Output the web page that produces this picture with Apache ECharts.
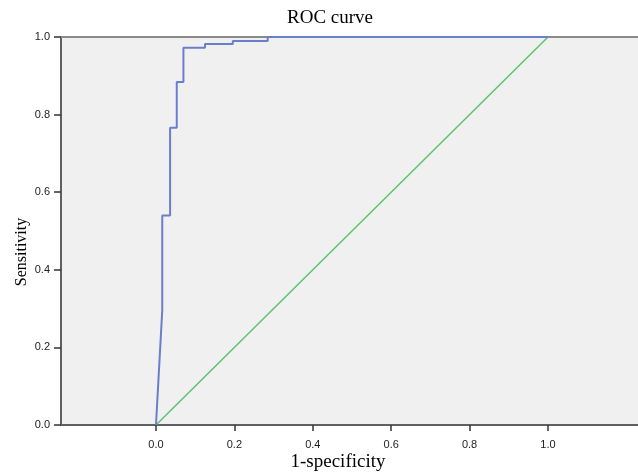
<!DOCTYPE html>
<html>
<head>
<meta charset="utf-8">
<script src="https://cdn.jsdelivr.net/npm/echarts@6/dist/echarts.min.js"></script>
<style>html,body{margin:0;padding:0;background:#fff;}#c{width:638px;height:475px;}</style>
</head>
<body>
<div id="c"></div>
<script>
const titleText = "ROC curve";
const xTitle = "1-specificity";
const yTitle = "Sensitivity";
const tickValues = [0, 0.2, 0.4, 0.6, 0.8, 1.0];
// ROC curve points (1-specificity, sensitivity)
const rocX = [0, 0.016, 0.016, 0.036, 0.036, 0.053, 0.053, 0.070, 0.070, 0.125, 0.125, 0.196, 0.196, 0.285, 0.285, 1.0];
const rocY = [0, 0.296, 0.540, 0.540, 0.766, 0.766, 0.884, 0.884, 0.972, 0.972, 0.982, 0.982, 0.990, 0.990, 1.0, 1.0];
// Reference diagonal
const refX = [0, 1];
const refY = [0, 1];

const chart = echarts.init(document.getElementById('c'), null, {renderer: 'canvas'});
const rocData = rocX.map((x, i) => [x, rocY[i]]);
const refData = refX.map((x, i) => [x, refY[i]]);
const sans = 'Liberation Sans';
const xMin = -0.2423, xMax = 1.2296;

chart.setOption({
  animation: false,
  backgroundColor: '#ffffff',
  grid: {left: 61, right: 0, top: 37, bottom: 50, show: true,
         backgroundColor: '#f0f0f0', borderWidth: 0},
  xAxis: [{
    type: 'value', min: xMin, max: xMax, position: 'bottom',
    splitLine: {show: false},
    axisLine: {show: true, onZero: false, lineStyle: {color: '#606060', width: 2}},
    axisTick: {show: true, customValues: tickValues, length: 6, lineStyle: {color: '#333', width: 1.5}},
    axisLabel: {customValues: tickValues, formatter: v => v.toFixed(1), margin: 14,
                fontFamily: sans, fontSize: 11, color: '#222'}
  }, {
    type: 'value', min: xMin, max: xMax, position: 'top',
    splitLine: {show: false},
    axisLine: {show: true, onZero: false, lineStyle: {color: '#8a8a8a', width: 2}},
    axisTick: {show: false}, axisLabel: {show: false}
  }],
  yAxis: {
    type: 'value', min: 0, max: 1, interval: 0.2,
    splitLine: {show: false},
    axisLine: {show: true, onZero: false, lineStyle: {color: '#606060', width: 2}},
    axisTick: {show: true, length: 7, lineStyle: {color: '#333', width: 1.5}},
    axisLabel: {formatter: v => v.toFixed(1), margin: 11,
                fontFamily: sans, fontSize: 11, color: '#222'}
  },
  graphic: [
    {type: 'text', x: 330, y: 18, style: {text: titleText, font: '19px "Liberation Serif"', fill: '#000', align: 'center', verticalAlign: 'middle'}, z: 10},
    {type: 'text', x: 338, y: 462, style: {text: xTitle, font: '19px "Liberation Serif"', fill: '#000', align: 'center', verticalAlign: 'middle'}, z: 10},
    {type: 'text', x: 22, y: 252, rotation: Math.PI / 2, style: {text: yTitle, font: '16px "Liberation Serif"', fill: '#000', align: 'center', verticalAlign: 'middle'}, z: 10}
  ],
  series: [
    {type: 'line', data: refData, showSymbol: false, lineStyle: {color: '#5cc46a', width: 1.5}, z: 2},
    {type: 'line', data: rocData, showSymbol: false, lineStyle: {color: '#6a7fc9', width: 2}, z: 3}
  ]
});
</script>
</body>
</html>
